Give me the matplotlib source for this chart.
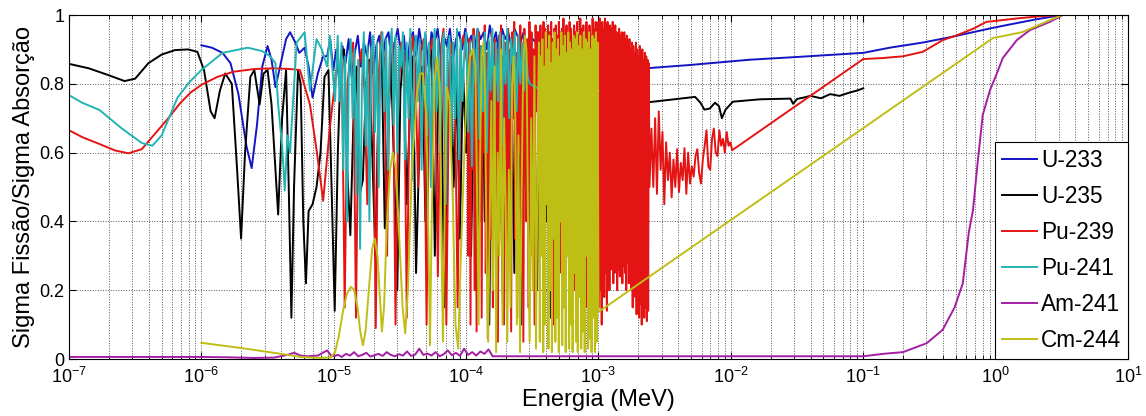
import numpy as np
import matplotlib
matplotlib.use("Agg")
import matplotlib.pyplot as plt
from matplotlib.ticker import LogLocator, NullFormatter

plt.rcParams['font.family'] = ['Liberation Sans', 'DejaVu Sans']

# ---------------------------------------------------------------
# Data (energies given as log10(E / MeV)).
# Smooth parts are (logE, ratio) pairs; dense resonance blocks are
# ratio values sampled evenly in logE between the given bounds.
# ---------------------------------------------------------------

# U-233
u233_lo_logE = [-6.0, -5.92, -5.84, -5.78, -5.72, -5.66, -5.62, -5.58, -5.54, -5.50, -5.47,
                -5.44, -5.40, -5.36, -5.33, -5.29, -5.26, -5.22, -5.19, -5.16, -5.12, -5.08]
u233_lo_sig = [0.912, 0.905, 0.89, 0.86, 0.77, 0.62, 0.555, 0.68, 0.85, 0.91, 0.87,
               0.79, 0.86, 0.93, 0.95, 0.92, 0.89, 0.905, 0.85, 0.76, 0.83, 0.88]
u233_res_span = (-5.05, -3.45)
u233_res_sig = [0.88, 0.93, 0.84, 0.90, 0.80, 0.91, 0.86, 0.93, 0.82, 0.89, 0.94, 0.85, 0.92, 0.88,
                0.95, 0.83, 0.91, 0.94, 0.87, 0.93, 0.95, 0.86, 0.92, 0.96, 0.89, 0.94, 0.84, 0.93,
                0.95, 0.88, 0.96, 0.90, 0.94, 0.85, 0.95, 0.92, 0.96, 0.88, 0.94, 0.91, 0.96, 0.87,
                0.93, 0.95, 0.90, 0.96, 0.92, 0.94, 0.89, 0.96, 0.93, 0.95, 0.90, 0.97, 0.92, 0.95,
                0.88, 0.96, 0.93, 0.95, 0.91, 0.96, 0.94, 0.92, 0.95, 0.90, 0.94, 0.93, 0.92, 0.93]
u233_hi_logE = [-3.3, -3.0, -2.61, -2.3, -1.86, -1.5, -1.0, -0.8, -0.55, -0.35, -0.03, 0.1, 0.3, 0.5, 0.8]
u233_hi_sig = [0.92, 0.88, 0.846, 0.855, 0.87, 0.878, 0.89, 0.905, 0.92, 0.935, 0.962, 0.972, 0.987, 1.0, 1.0]

# U-235
u235_lo_logE = [-7.0, -6.85, -6.7, -6.58, -6.5, -6.4, -6.3, -6.2, -6.1, -6.03, -5.98, -5.93, -5.90,
                -5.86, -5.82, -5.77, -5.73, -5.70, -5.67, -5.63, -5.60, -5.56, -5.53, -5.50, -5.47,
                -5.44, -5.42, -5.39, -5.36, -5.34, -5.32, -5.30, -5.27, -5.25, -5.23, -5.21, -5.19,
                -5.16, -5.13, -5.10, -5.07]
u235_lo_sig = [0.858, 0.845, 0.825, 0.808, 0.815, 0.86, 0.885, 0.898, 0.9, 0.893, 0.84, 0.72, 0.70,
               0.78, 0.83, 0.80, 0.55, 0.35, 0.60, 0.82, 0.84, 0.74, 0.83, 0.84, 0.74,
               0.55, 0.42, 0.70, 0.84, 0.50, 0.12, 0.50, 0.84, 0.80, 0.40, 0.22, 0.43,
               0.45, 0.50, 0.60, 0.82]
u235_resA_span = (-5.04, -4.0)
u235_resA_sig = [0.84, 0.50, 0.14, 0.60, 0.88, 0.90, 0.55, 0.36, 0.70, 0.85, 0.48, 0.52, 0.80, 0.87,
                 0.60, 0.30, 0.75, 0.90, 0.38, 0.65, 0.86, 0.55, 0.20, 0.78, 0.89, 0.45, 0.70, 0.88,
                 0.25, 0.60, 0.85, 0.40, 0.82, 0.90, 0.30, 0.72, 0.86, 0.15, 0.65, 0.88, 0.50, 0.80,
                 0.35, 0.84, 0.60]
u235_resB_span = (-3.98, -2.62)
u235_resB_sig = [0.85, 0.30, 0.70, 0.88, 0.20, 0.65, 0.90, 0.40, 0.80, 0.10, 0.75, 0.88, 0.35, 0.85,
                 0.55, 0.15, 0.82, 0.90, 0.45, 0.70, 0.25, 0.86, 0.60, 0.10, 0.88, 0.50, 0.80, 0.30,
                 0.90, 0.65, 0.20, 0.85, 0.55, 0.88, 0.40, 0.75, 0.12, 0.86, 0.62, 0.90, 0.35, 0.80,
                 0.50, 0.88, 0.25, 0.82, 0.56, 0.48, 0.85, 0.70, 0.30, 0.88, 0.60, 0.80, 0.45, 0.86,
                 0.20, 0.78, 0.65, 0.88, 0.50, 0.82, 0.40, 0.85, 0.70, 0.30, 0.80, 0.60, 0.84, 0.50,
                 0.78, 0.72, 0.76, 0.70, 0.77, 0.74, 0.75, 0.73, 0.76, 0.747]
u235_hi_logE = [-2.61, -2.31, -2.27, -2.23, -2.20, -2.16, -2.12, -2.09, -2.068, -2.04, -1.985,
                -1.78, -1.55, -1.53, -1.50, -1.45, -1.40, -1.32, -1.25, -1.18, -1.1, -1.05, -1.0]
u235_hi_sig = [0.747, 0.76, 0.762, 0.745, 0.725, 0.728, 0.745, 0.735, 0.70, 0.725, 0.748,
               0.755, 0.757, 0.742, 0.756, 0.76, 0.765, 0.758, 0.77, 0.765, 0.775, 0.78, 0.787]

# Pu-239
pu239_lo_logE = [-7.0, -6.9, -6.77, -6.65, -6.55, -6.45, -6.35, -6.25, -6.16, -6.08, -6.0, -5.88,
                 -5.76, -5.6, -5.45, -5.33, -5.255, -5.18, -5.127, -5.08, -5.03, -4.98]
pu239_lo_sig = [0.665, 0.645, 0.625, 0.606, 0.598, 0.61, 0.655, 0.70, 0.744, 0.775, 0.797, 0.82,
                0.835, 0.843, 0.845, 0.843, 0.84, 0.74, 0.60, 0.46, 0.67, 0.84]
pu239_res1_span = (-4.96, -4.0)
pu239_res1_sig = [0.83, 0.86, 0.15, 0.80, 0.88, 0.92, 0.12, 0.85, 0.90, 0.78, 0.45, 0.86,
                  0.93, 0.09, 0.82, 0.95, 0.87, 0.30, 0.90, 0.92, 0.10, 0.75, 0.92, 0.88,
                  0.12, 0.80, 0.94, 0.85, 0.50, 0.90, 0.93, 0.10, 0.88, 0.93, 0.82, 0.24,
                  0.90, 0.96, 0.10, 0.86, 0.92, 0.80, 0.15, 0.90, 0.94, 0.88]
pu239_res2_span = (-3.99, -3.46)
pu239_res2_sig = [0.85, 0.30, 0.93, 0.10, 0.88, 0.55, 0.96, 0.20, 0.90, 0.08, 0.84, 0.95, 0.40, 0.91,
                  0.12, 0.87, 0.60, 0.97, 0.25, 0.89, 0.06, 0.92, 0.70, 0.35, 0.95, 0.15, 0.86, 0.93,
                  0.45, 0.90, 0.05, 0.94, 0.65, 0.97, 0.30, 0.88, 0.10, 0.92, 0.80, 0.20, 0.96, 0.50,
                  0.90, 0.08, 0.95, 0.70, 0.98, 0.35, 0.89, 0.12, 0.94, 0.60, 0.97, 0.25, 0.91, 0.05,
                  0.96, 0.75, 0.40, 0.93, 0.15, 0.98, 0.66, 0.95, 0.30, 0.90, 0.10, 0.97, 0.72, 0.95]
pu239_res3_span = (-3.45, -3.01)
pu239_res3_sig = [0.95, 0.70, 0.97, 0.40, 0.93, 0.75, 0.98, 0.20, 0.96, 0.68, 0.94, 0.85, 0.97, 0.30,
                  0.95, 0.72, 0.98, 0.66, 0.93, 0.10, 0.96, 0.80, 0.97, 0.55, 0.94, 0.70, 0.98, 0.25,
                  0.95, 0.78, 0.96, 0.66, 0.99, 0.15, 0.94, 0.85, 0.97, 0.45, 0.95, 0.70, 0.98, 0.12,
                  0.96, 0.75, 0.93, 0.60, 0.97, 0.20, 0.95, 0.82, 0.98, 0.35, 0.94, 0.68, 0.99, 0.10,
                  0.96, 0.76, 0.97, 0.50, 0.93, 0.15, 0.98, 0.72, 0.95, 0.30, 0.97, 0.65, 0.94, 0.12,
                  0.99, 0.80, 0.96, 0.40, 0.98, 0.18, 0.95]
pu239_res4_span = (-3.0, -2.615)
pu239_res4_sig = [0.98, 0.15, 0.99, 0.20, 0.97, 0.10, 0.98, 0.22, 0.96, 0.18, 0.99, 0.25, 0.97, 0.14,
                  0.98, 0.24, 0.95, 0.20, 0.97, 0.26, 0.96, 0.30, 0.98, 0.22, 0.94, 0.25, 0.97, 0.28,
                  0.95, 0.20, 0.93, 0.26, 0.96, 0.24, 0.94, 0.30, 0.95, 0.22, 0.92, 0.27, 0.95, 0.25,
                  0.93, 0.20, 0.94, 0.28, 0.91, 0.22, 0.93, 0.26, 0.90, 0.20, 0.92, 0.15, 0.91, 0.22,
                  0.89, 0.18, 0.92, 0.13, 0.90, 0.20, 0.88, 0.12, 0.91, 0.16, 0.89, 0.10, 0.90, 0.14,
                  0.87, 0.12, 0.89, 0.15, 0.88, 0.11, 0.87, 0.14, 0.86, 0.50]
pu239_urr_span = (-2.60, -1.99)
pu239_urr_sig = [0.67, 0.50, 0.70, 0.48, 0.72, 0.55, 0.66, 0.45, 0.63, 0.52, 0.60, 0.47, 0.58, 0.50,
                 0.61, 0.485, 0.57, 0.52, 0.613, 0.48, 0.60, 0.51, 0.56, 0.53, 0.59, 0.61, 0.54, 0.51,
                 0.58, 0.62, 0.665, 0.56, 0.55, 0.64, 0.67, 0.60, 0.59, 0.665, 0.62, 0.64, 0.60, 0.66,
                 0.62, 0.63, 0.607]
pu239_hi_logE = [-1.0, -0.85, -0.7, -0.55, -0.4, -0.3, -0.17, -0.07, 0.16, 0.35, 0.5, 0.6]
pu239_hi_sig = [0.872, 0.875, 0.88, 0.893, 0.927, 0.94, 0.96, 0.98, 0.99, 0.997, 1.0, 1.0]

# Pu-241
pu241_lo_logE = [-7.0, -6.9, -6.77, -6.6, -6.45, -6.37, -6.3, -6.18, -6.09, -6.0, -5.84, -5.65,
                 -5.54, -5.48, -5.44, -5.42, -5.39, -5.37, -5.35, -5.33, -5.315, -5.28, -5.22,
                 -5.18, -5.13, -5.09, -5.05, -5.03, -4.99]
pu241_lo_sig = [0.767, 0.745, 0.724, 0.67, 0.628, 0.62, 0.65, 0.76, 0.805, 0.84, 0.89, 0.905,
                0.895, 0.88, 0.86, 0.74, 0.62, 0.49, 0.65, 0.60, 0.70, 0.92, 0.95,
                0.78, 0.93, 0.90, 0.85, 0.94, 0.75]
pu241_res_span = (-4.97, -3.52)
pu241_res_sig = [0.94, 0.75, 0.92, 0.55, 0.88, 0.40, 0.85, 0.93, 0.70, 0.90, 0.48, 0.87, 0.32, 0.80,
                 0.95, 0.62, 0.91, 0.40, 0.88, 0.94, 0.66, 0.92, 0.50, 0.89, 0.95, 0.72, 0.93, 0.55,
                 0.90, 0.96, 0.68, 0.94, 0.60, 0.91, 0.85, 0.95, 0.58, 0.92, 0.70, 0.96, 0.52, 0.89,
                 0.94, 0.75, 0.93, 0.55, 0.90, 0.95, 0.65, 0.92, 0.50, 0.88, 0.96, 0.72, 0.93, 0.60,
                 0.91, 0.95, 0.45, 0.90, 0.94, 0.62, 0.92, 0.70, 0.96, 0.58, 0.93, 0.75, 0.90, 0.95,
                 0.66, 0.92, 0.56, 0.94, 0.80, 0.96, 0.64, 0.91, 0.72, 0.95, 0.60, 0.93, 0.78, 0.96,
                 0.68, 0.92, 0.75, 0.95, 0.62, 0.94, 0.80, 0.96, 0.70, 0.93, 0.85, 0.95, 0.72, 0.94,
                 0.80, 0.92, 0.78, 0.90, 0.82, 0.80]
pu241_hi_logE = [-3.45, -3.3, -3.15, -3.0]
pu241_hi_sig = [0.785, 0.775, 0.775, 0.78]

# Am-241
am241_lo_logE = [-7.0, -6.5, -6.0, -5.8, -5.6, -5.45, -5.35, -5.3, -5.25, -5.2, -5.12, -5.05, -5.02]
am241_lo_sig = [0.006, 0.006, 0.006, 0.005, 0.003, 0.004, 0.012, 0.018, 0.01, 0.008, 0.01, 0.025, 0.01]
am241_res_span = (-5.0, -3.8)
am241_res_sig = [0.008, 0.012, 0.006, 0.015, 0.01, 0.02, 0.008, 0.012, 0.018, 0.007, 0.011, 0.015,
                 0.009, 0.02, 0.012, 0.008, 0.014, 0.01, 0.022, 0.009, 0.013, 0.03, 0.012, 0.016,
                 0.01, 0.02, 0.008, 0.014, 0.025, 0.011, 0.018, 0.009, 0.03, 0.012, 0.02, 0.01,
                 0.022, 0.015, 0.028, 0.008]
am241_hi_logE = [-3.75, -2.0, -1.0, -0.85, -0.70, -0.52, -0.40, -0.31, -0.248, -0.202, -0.172,
                 -0.134, -0.097, -0.044, 0.009, 0.054, 0.16, 0.258, 0.409, 0.508, 0.6]
am241_hi_sig = [0.008, 0.008, 0.008, 0.015, 0.02, 0.046, 0.085, 0.15, 0.22, 0.37, 0.43,
                0.578, 0.71, 0.78, 0.83, 0.875, 0.927, 0.956, 0.98, 1.0, 1.0]

# Cm-244
cm244_lo_logE = [-6.0, -5.7, -5.4, -5.25, -5.1, -5.02, -4.99, -4.96, -4.93, -4.9, -4.87, -4.845,
                 -4.82, -4.80, -4.78, -4.76, -4.735, -4.71, -4.69, -4.67, -4.65, -4.636, -4.62,
                 -4.6, -4.575, -4.553, -4.53, -4.505, -4.48, -4.46, -4.44, -4.41, -4.37, -4.345,
                 -4.326, -4.30, -4.285, -4.273, -4.26, -4.24, -4.22, -4.20, -4.185, -4.175, -4.16,
                 -4.145, -4.125, -4.10, -4.08, -4.06, -4.04, -4.0, -3.97, -3.95]
cm244_lo_sig = [0.047, 0.032, 0.015, 0.006, 0.003, 0.005, 0.02, 0.07, 0.14, 0.19, 0.21, 0.2,
                0.15, 0.08, 0.04, 0.08, 0.2, 0.32, 0.35, 0.3, 0.17, 0.08, 0.15,
                0.38, 0.55, 0.6, 0.55, 0.35, 0.15, 0.075, 0.2, 0.55, 0.78, 0.83,
                0.83, 0.7, 0.35, 0.04, 0.4, 0.8, 0.875, 0.8, 0.3, 0.05, 0.5,
                0.79, 0.75, 0.45, 0.1, 0.03, 0.3, 0.75, 0.88, 0.9]
cm244_res1_span = (-3.93, -3.46)
cm244_res1_sig = [0.85, 0.50, 0.10, 0.60, 0.88, 0.92, 0.80, 0.30, 0.05, 0.40, 0.75, 0.20, 0.85, 0.02,
                  0.60, 0.30, 0.90, 0.10, 0.70, 0.45, 0.05, 0.55, 0.15, 0.80, 0.88, 0.70, 0.10, 0.65,
                  0.02, 0.50, 0.85, 0.94, 0.90, 0.40, 0.05, 0.70, 0.20, 0.88, 0.03, 0.60]
cm244_res2_span = (-3.45, -3.0)
cm244_res2_sig = [0.92, 0.05, 0.88, 0.30, 0.93, 0.02, 0.85, 0.10, 0.95, 0.45, 0.90, 0.03, 0.94, 0.20,
                  0.86, 0.02, 0.92, 0.35, 0.95, 0.05, 0.90, 0.12, 0.93, 0.02, 0.88, 0.40, 0.95, 0.04,
                  0.91, 0.15, 0.94, 0.02, 0.89, 0.30, 0.95, 0.03, 0.92, 0.10, 0.90, 0.02, 0.94, 0.25,
                  0.93, 0.05, 0.95, 0.02, 0.91, 0.18, 0.94, 0.03, 0.90, 0.08, 0.95, 0.02, 0.93, 0.30,
                  0.92, 0.03, 0.95, 0.06, 0.90, 0.02, 0.94, 0.12, 0.93, 0.02, 0.95, 0.05, 0.92, 0.137]
cm244_hi_logE = [-0.02, 0.2, 0.35, 0.5, 0.6]
cm244_hi_sig = [0.933, 0.95, 0.975, 1.0, 1.0]

labels = ['U-233', 'U-235', 'Pu-239', 'Pu-241', 'Am-241', 'Cm-244']
colors = ['#1414c4', '#000000', '#e41414', '#22b4b4', '#a41ea4', '#bebe14']


def build(*parts):
    """Concatenate (logE list, sig list) pairs and (span, sig list) blocks."""
    xs, ys = [], []
    for a, b in parts:
        if isinstance(a, tuple):
            xs.append(np.linspace(a[0], a[1], len(b)))
        else:
            xs.append(np.asarray(a, float))
        ys.append(np.asarray(b, float))
    return 10.0 ** np.concatenate(xs), np.concatenate(ys)


series = [
    build((u233_lo_logE, u233_lo_sig), (u233_res_span, u233_res_sig), (u233_hi_logE, u233_hi_sig)),
    build((u235_lo_logE, u235_lo_sig), (u235_resA_span, u235_resA_sig),
          (u235_resB_span, u235_resB_sig), (u235_hi_logE, u235_hi_sig)),
    build((pu239_lo_logE, pu239_lo_sig), (pu239_res1_span, pu239_res1_sig),
          (pu239_res2_span, pu239_res2_sig), (pu239_res3_span, pu239_res3_sig),
          (pu239_res4_span, pu239_res4_sig), (pu239_urr_span, pu239_urr_sig),
          (pu239_hi_logE, pu239_hi_sig)),
    build((pu241_lo_logE, pu241_lo_sig), (pu241_res_span, pu241_res_sig), (pu241_hi_logE, pu241_hi_sig)),
    build((am241_lo_logE, am241_lo_sig), (am241_res_span, am241_res_sig), (am241_hi_logE, am241_hi_sig)),
    build((cm244_lo_logE, cm244_lo_sig), (cm244_res1_span, cm244_res1_sig),
          (cm244_res2_span, cm244_res2_sig), (cm244_hi_logE, cm244_hi_sig)),
]

fig = plt.figure(figsize=(11.46, 4.16), dpi=100)
ax = fig.add_axes([0.0602, 0.137, 0.9241, 0.8269])

for (E, s), lab, c in zip(series, labels, colors):
    ax.plot(E, s, color=c, lw=1.4, label=lab)

ax.set_xscale('log')
ax.set_xlim(1e-7, 10)
ax.set_ylim(0, 1)
ax.set_yticks([0, 0.2, 0.4, 0.6, 0.8, 1.0])
ax.set_yticklabels(['0', '0.2', '0.4', '0.6', '0.8', '1'])
ax.xaxis.set_major_locator(LogLocator(base=10, numticks=12))
ax.xaxis.set_minor_locator(LogLocator(base=10, subs=np.arange(2, 10), numticks=12))
ax.xaxis.set_minor_formatter(NullFormatter())

ax.grid(True, which='major', axis='both', linestyle=':', color='#555555', lw=0.7)
ax.grid(True, which='minor', axis='x', linestyle=':', color='#555555', lw=0.7)
ax.tick_params(which='both', direction='in', top=True, right=True, labelsize=13)
ax.tick_params(which='major', length=5)
ax.tick_params(which='minor', length=3)
ax.tick_params(axis='x', pad=6)
for sp in ax.spines.values():
    sp.set_linewidth(0.8)

ax.set_xlabel('Energia (MeV)', fontsize=17, labelpad=1)
ax.set_ylabel('Sigma Fissão/Sigma Absorção', fontsize=17, labelpad=3)

leg = ax.legend(loc='lower right', fontsize=16.3, borderaxespad=0, fancybox=False,
                framealpha=1, edgecolor='black', handlelength=1.54, handletextpad=0.18,
                labelspacing=0.58, borderpad=0.3)
leg.get_frame().set_linewidth(0.8)

plt.savefig('out.png', dpi=100)
